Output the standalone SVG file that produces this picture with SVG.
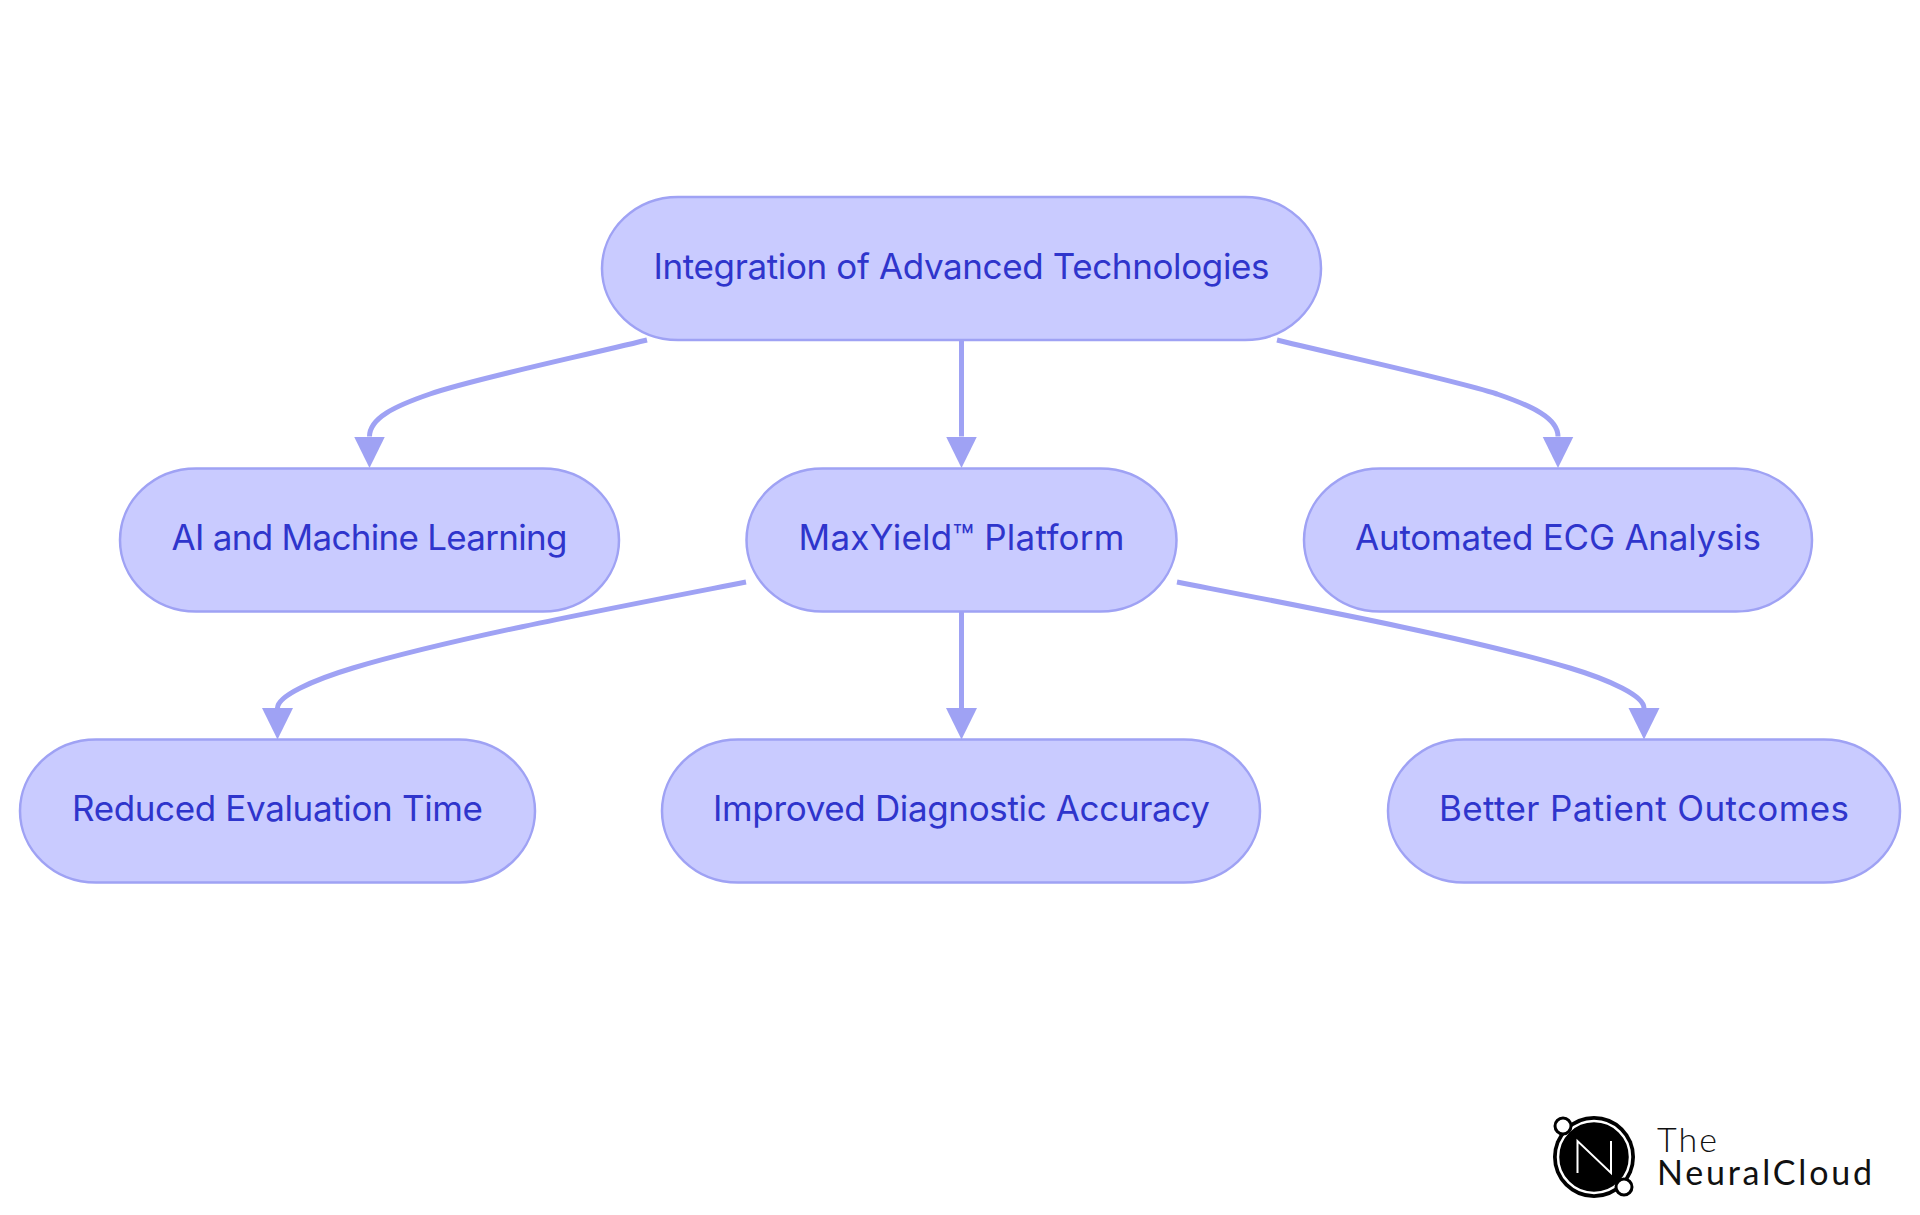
<svg xmlns="http://www.w3.org/2000/svg" width="1920" height="1215" viewBox="0 0 1920 1215">
<style>
.n{fill:#c9cbff;stroke:#9fa2f4;stroke-width:2.5}
.t{font-family:Inter,"Noto Sans",sans-serif;font-size:35px;fill:#2f35cc;text-anchor:middle}
.e{fill:none;stroke:#9fa2f4;stroke-width:5}
.l{font-family:Lato,"Noto Sans",sans-serif;fill:#111;font-size:34px}
</style>
<defs><marker id="a" markerUnits="userSpaceOnUse" markerWidth="33" markerHeight="33" refX="0" refY="15.5" orient="auto"><path d="M0 0L31.500 15.500L0 31z" fill="#9fa2f4"/></marker></defs>
<rect width="1920" height="1215" fill="#fff"/>
<g id="n1"><rect class="n" x="602" y="197" width="719" height="143" rx="76" ry="71.500"/><text class="t" x="961.500" y="279" textLength="616">Integration of Advanced Technologies</text></g>
<g id="n2"><rect class="n" x="120" y="468.500" width="499" height="143" rx="76" ry="71.500"/><text class="t" x="369.500" y="550" textLength="396">AI and Machine Learning</text></g>
<g id="n3"><rect class="n" x="746.500" y="468.500" width="430" height="143" rx="76" ry="71.500"/><text class="t" x="961.500" y="550" textLength="326">MaxYield™ Platform</text></g>
<g id="n4"><rect class="n" x="1304" y="468.500" width="508" height="143" rx="76" ry="71.500"/><text class="t" x="1558" y="550" textLength="406">Automated ECG Analysis</text></g>
<g id="n5"><rect class="n" x="20" y="739.500" width="515" height="143" rx="76" ry="71.500"/><text class="t" x="277.500" y="821" textLength="411">Reduced Evaluation Time</text></g>
<g id="n6"><rect class="n" x="662" y="739.500" width="598" height="143" rx="76" ry="71.500"/><text class="t" x="961.500" y="821" textLength="497">Improved Diagnostic Accuracy</text></g>
<g id="n7"><rect class="n" x="1388" y="739.500" width="512" height="143" rx="76" ry="71.500"/><text class="t" x="1644" y="821" textLength="410">Better Patient Outcomes</text></g>
<g id="connectors">
<path class="e" marker-end="url(#a)" d="M647 340C560 361 470 380 430 394C395 406 369.500 418 369.500 436.500"/>
<path class="e" marker-end="url(#a)" d="M961.500 340V436.500"/>
<path class="e" marker-end="url(#a)" d="M1277 340C1364 361 1453 380 1497 394C1532 406 1558 418 1558 436.500"/>
<path class="e" marker-end="url(#a)" d="M746 582C623 606 453 638 353 668C313 680 277.500 696 277.500 708"/>
<path class="e" marker-end="url(#a)" d="M961.500 611V708"/>
<path class="e" marker-end="url(#a)" d="M1177 582C1300 606 1470 638 1570 668C1610 680 1644 696 1644 708"/>
</g>
<g id="logo">
<circle cx="1594" cy="1157" r="41" fill="#000"/>
<circle cx="1594" cy="1157" r="36" fill="none" stroke="#fff" stroke-width="2.500"/>
<path d="M1577.500 1173V1141L1611 1173V1141" fill="none" stroke="#fff" stroke-width="2"/>
<circle cx="1563" cy="1126" r="8" fill="#fff" stroke="#000" stroke-width="3"/>
<circle cx="1624" cy="1187" r="8" fill="#fff" stroke="#000" stroke-width="3"/>
<text class="l" x="1657" y="1152" font-weight="300" textLength="60">The</text>
<text class="l" x="1657" y="1185" font-weight="400" textLength="215">NeuralCloud</text>
</g>
</svg>
